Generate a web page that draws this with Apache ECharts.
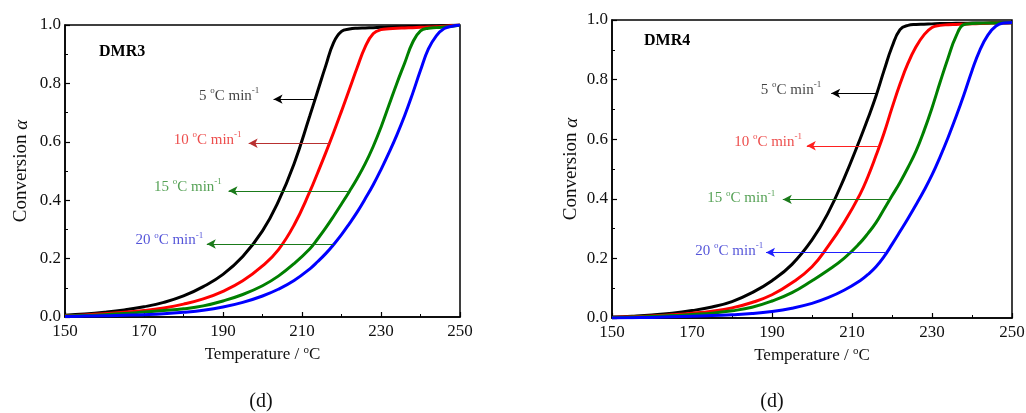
<!DOCTYPE html>
<html><head><meta charset="utf-8">
<script src="https://cdn.jsdelivr.net/npm/echarts@6/dist/echarts.min.js"></script>
<style>html,body{margin:0;padding:0;background:#fff}#c{width:1026px;height:413px}</style>
</head><body><div id="c"></div>
<script>
// ---------- data ----------
const temps = [150,155,160,165,170,175,180,185,190,195,200,204,208,212,214,216,218,220,222,224,226,228,230,232,234,236,238,240,242,244,246,248,250];
const rates = ['5','10','15','20'];
const xTicks = [150,170,190,210,230,250];
const yTicks = [0.0,0.2,0.4,0.6,0.8,1.0];

// DMR3 conversion at each temperature
const dmr3_5  = [0.006,0.010,0.016,0.024,0.035,0.050,0.072,0.104,0.146,0.207,0.295,0.395,0.525,0.69,0.775,0.86,0.94,0.978,0.986,0.989,0.990,0.991,0.992,0.993,0.994,0.994,0.995,0.995,0.996,0.997,0.998,0.999,1.0];
const dmr3_10 = [0.004,0.007,0.011,0.016,0.022,0.031,0.044,0.062,0.088,0.124,0.175,0.23,0.315,0.43,0.495,0.562,0.632,0.705,0.78,0.855,0.925,0.97,0.984,0.987,0.989,0.990,0.991,0.992,0.993,0.994,0.996,0.998,1.0];
const dmr3_15 = [0.003,0.005,0.008,0.012,0.017,0.022,0.028,0.038,0.055,0.077,0.107,0.14,0.183,0.234,0.268,0.305,0.345,0.387,0.43,0.475,0.525,0.583,0.65,0.725,0.80,0.87,0.94,0.98,0.989,0.991,0.993,0.996,1.0];
const dmr3_20 = [0.002,0.003,0.004,0.006,0.008,0.011,0.016,0.023,0.034,0.05,0.072,0.095,0.125,0.165,0.19,0.217,0.248,0.282,0.32,0.36,0.405,0.452,0.505,0.562,0.623,0.69,0.765,0.845,0.918,0.963,0.988,0.996,1.0];

// DMR4 conversion at each temperature
const dmr4_5  = [0.003,0.006,0.010,0.016,0.025,0.037,0.055,0.085,0.125,0.18,0.262,0.352,0.468,0.60,0.67,0.745,0.83,0.91,0.968,0.982,0.985,0.986,0.987,0.988,0.988,0.989,0.989,0.99,0.99,0.99,0.991,0.991,0.991];
const dmr4_10 = [0.002,0.004,0.007,0.011,0.016,0.023,0.034,0.052,0.078,0.118,0.172,0.24,0.32,0.415,0.475,0.545,0.62,0.705,0.785,0.855,0.91,0.95,0.975,0.982,0.984,0.985,0.986,0.987,0.988,0.989,0.99,0.99,0.991];
const dmr4_15 = [0.001,0.003,0.005,0.008,0.012,0.016,0.024,0.036,0.057,0.085,0.125,0.16,0.2,0.252,0.284,0.32,0.365,0.41,0.455,0.505,0.56,0.628,0.705,0.79,0.872,0.945,0.985,0.988,0.989,0.99,0.99,0.991,0.991];
const dmr4_20 = [0.0,0.001,0.002,0.004,0.006,0.008,0.011,0.015,0.022,0.033,0.049,0.068,0.093,0.125,0.146,0.172,0.206,0.247,0.29,0.334,0.38,0.428,0.48,0.54,0.605,0.675,0.75,0.83,0.9,0.95,0.98,0.99,0.992];

// annotation arrows (temperature from curve -> to arrow tip, at conversion level)
const dmr3ArrowFrom  = [213.3, 217.1, 222.2, 218.0];
const dmr3ArrowTo    = [202.8, 196.5, 191.4, 185.9];
const dmr3ArrowAlpha = [0.746, 0.595, 0.432, 0.25];
const dmr3LabelT     = [199.2, 194.7, 189.7, 185.0];
const dmr3LabelAlpha = [0.757, 0.607, 0.446, 0.262];

const dmr4ArrowFrom  = [216.0, 216.7, 219.3, 218.5];
const dmr4ArrowTo    = [204.8, 198.7, 192.7, 188.5];
const dmr4ArrowAlpha = [0.754, 0.578, 0.398, 0.22];
const dmr4LabelT     = [202.3, 197.5, 190.8, 187.8];
const dmr4LabelAlpha = [0.765, 0.592, 0.402, 0.225];

// ---------- styles ----------
const FONT = '"Liberation Serif", "Times New Roman", serif';
const lineColors = ['#000000', '#ff0000', '#008000', '#0000ff'];
const textColors = ['#111111', '#e8201f', '#2a8a2a', '#2a2ad0'];
const arrowColors3 = ['#000000', '#b83030', '#1a7a1a', '#1a7a1a'];
const arrowColors4 = ['#000000', '#ff2020', '#1a7a1a', '#2020ff'];

const grids = [
  {left: 65, top: 25, width: 395, height: 292},
  {left: 612, top: 20, width: 400, height: 298}
];

function xAxis(g) {
  return {
    type: 'value', gridIndex: g, min: xTicks[0], max: xTicks[xTicks.length-1], interval: 20,
    axisLine: {show: true, lineStyle: {color: '#000', width: 1.5}},
    axisTick: {show: true, inside: true, length: 5, lineStyle: {color: '#000', width: 1.2}},
    minorTick: {show: true, splitNumber: 2, length: 3, lineStyle: {color: '#000', width: 1}},
    splitLine: {show: false},
    axisLabel: {fontFamily: FONT, fontSize: 17, color: '#111', margin: 6},
    name: '{n|Temperature / }{s|o}{n|C}', nameLocation: 'middle', nameGap: 24,
    nameTextStyle: {rich: {
      n: {fontFamily: FONT, fontSize: 17, color: '#111', lineHeight: 20},
      s: {fontFamily: FONT, fontSize: 11, color: '#111', verticalAlign: 'top', lineHeight: 11}
    }}
  };
}
function yAxis(g, gap) {
  return {
    type: 'value', gridIndex: g, min: yTicks[0], max: yTicks[yTicks.length-1], interval: 0.2,
    axisLine: {show: true, lineStyle: {color: '#000', width: 1.5}},
    axisTick: {show: true, inside: true, length: 5, lineStyle: {color: '#000', width: 1.2}},
    minorTick: {show: true, splitNumber: 2, length: 3, lineStyle: {color: '#000', width: 1}},
    splitLine: {show: false},
    axisLabel: {fontFamily: FONT, fontSize: 17, color: '#111', margin: 4, formatter: v => v.toFixed(1)},
    name: '{n|Conversion }{a|α}', nameLocation: 'middle', nameGap: gap,
    nameTextStyle: {rich: {
      n: {fontFamily: FONT, fontSize: 19, color: '#111'},
      a: {fontFamily: FONT, fontSize: 19, color: '#111', fontStyle: 'italic'}
    }}
  };
}

function curveSeries(g, arrs) {
  return arrs.map((arr, k) => ({
    type: 'line', xAxisIndex: g, yAxisIndex: g,
    data: temps.map((t, i) => [t, arr[i]]),
    symbol: 'none', showSymbol: false, smooth: 0.45,
    lineStyle: {width: 3, color: lineColors[k]}, itemStyle: {color: lineColors[k]},
    z: 3
  }));
}

function annotSeries(g, from, to, alpha, labT, labA, arrowColors) {
  return {
    type: 'scatter', xAxisIndex: g, yAxisIndex: g, symbolSize: 0, silent: true, z: 4,
    data: labT.map((t, i) => ({
      value: [t, labA[i]],
      label: {
        show: true, position: 'left', distance: 0,
        formatter: '{m|' + rates[i] + ' }{s|o}{m|C min}{s|-1}',
        rich: {
          m: {fontFamily: FONT, fontSize: 15, color: textColors[i], lineHeight: 19},
          s: {fontFamily: FONT, fontSize: 9, color: textColors[i], verticalAlign: 'top', lineHeight: 10}
        }
      }
    })),
    markLine: {
      silent: true, symbol: ['none', 'arrow'], symbolSize: [7, 9], animation: false,
      label: {show: false},
      data: from.map((f, i) => [
        {coord: [f, alpha[i]], lineStyle: {color: arrowColors[i], width: 1.2, type: 'solid'}, itemStyle: {color: arrowColors[i]}},
        {coord: [to[i], alpha[i]]}
      ])
    }
  };
}

const titleFont = {fontFamily: FONT, fontWeight: 'bold', fontSize: 16, color: '#000'};
const capFont = {fontFamily: FONT, fontWeight: 'normal', fontSize: 20, color: '#111'};

const option = {
  animation: false,
  backgroundColor: '#fff',
  title: [
    {text: 'DMR3', left: 99, top: 44, padding: 0, textStyle: titleFont},
    {text: 'DMR4', left: 644, top: 33, padding: 0, textStyle: titleFont},
    {text: '(d)', left: 261, top: 392, padding: 0, textAlign: 'center', textStyle: capFont},
    {text: '(d)', left: 772, top: 392, padding: 0, textAlign: 'center', textStyle: capFont}
  ],
  grid: grids.map(g => Object.assign({show: true, borderColor: '#000', borderWidth: 1.5, backgroundColor: 'transparent', outerBoundsMode: 'none', containLabel: false}, g)),
  xAxis: [xAxis(0), xAxis(1)],
  yAxis: [yAxis(0, 34), yAxis(1, 31)],
  series: [
    ...curveSeries(0, [dmr3_5, dmr3_10, dmr3_15, dmr3_20]),
    ...curveSeries(1, [dmr4_5, dmr4_10, dmr4_15, dmr4_20]),
    annotSeries(0, dmr3ArrowFrom, dmr3ArrowTo, dmr3ArrowAlpha, dmr3LabelT, dmr3LabelAlpha, arrowColors3),
    annotSeries(1, dmr4ArrowFrom, dmr4ArrowTo, dmr4ArrowAlpha, dmr4LabelT, dmr4LabelAlpha, arrowColors4)
  ]
};

const chart = echarts.init(document.getElementById('c'), null, {renderer: 'canvas'});
chart.setOption(option);
</script>
</body></html>
